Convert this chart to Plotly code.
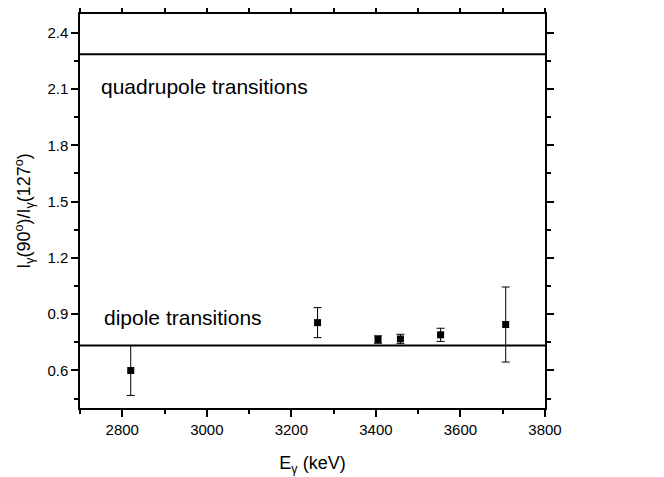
import plotly.graph_objects as go

# gamma energies (keV) and intensity ratios I(90)/I(127)
energy = [2820, 3262, 3405, 3458, 3553, 3707]
ratio = [0.60, 0.855, 0.765, 0.768, 0.790, 0.845]
ratio_err = [0.133, 0.080, 0.020, 0.025, 0.035, 0.200]

# reference levels for pure transitions
x_span = [2700, 3800]
quad_level = 2.286
dipole_level = 0.733

font = "Liberation Sans, Arial, sans-serif"

fig = go.Figure()
fig.add_trace(go.Scatter(x=x_span, y=[quad_level, quad_level], mode="lines",
                         line=dict(color="black", width=2), showlegend=False))
fig.add_trace(go.Scatter(x=x_span, y=[dipole_level, dipole_level], mode="lines",
                         line=dict(color="black", width=2), showlegend=False))
fig.add_trace(go.Scatter(x=energy, y=ratio, mode="markers",
                         marker=dict(symbol="square", size=7, color="black"),
                         error_y=dict(type="data", array=ratio_err, color="black",
                                      thickness=1, width=4),
                         showlegend=False))

fig.add_annotation(x=2745, y=2.112, xref="x", yref="y", text="quadrupole transitions",
                   showarrow=False, xanchor="left", font=dict(size=21, color="black"))
fig.add_annotation(x=2752, y=0.885, xref="x", yref="y", text="dipole transitions",
                   showarrow=False, xanchor="left", font=dict(size=21, color="black"))

axis_common = dict(showline=True, linecolor="black", linewidth=1.5, mirror="allticks",
                   ticks="outside", tickcolor="black", tickwidth=1.5, ticklen=7,
                   showgrid=False, zeroline=False, automargin=False,
                   tickfont=dict(size=15, color="black"),
                   minor=dict(ticks="outside", ticklen=4, tickcolor="black", tickwidth=1.5))

fig.update_xaxes(range=[2700, 3800], tick0=2800, dtick=200,
                 title=dict(text="E<sub>γ</sub> (keV)", font=dict(size=18, color="black"),
                            standoff=20),
                 **axis_common)
fig.update_xaxes(minor_dtick=100, minor_tick0=2700)
fig.update_yaxes(range=[0.4, 2.5], tick0=0.6, dtick=0.3, tickformat=".1f",
                 title=dict(text="I<sub>γ</sub>(90<sup>o</sup>)/I<sub>γ</sub>(127<sup>o</sup>)",
                            font=dict(size=18, color="black"), standoff=12),
                 **axis_common)
fig.update_yaxes(minor_dtick=0.15, minor_tick0=0.45)

fig.update_layout(width=664, height=477, plot_bgcolor="white", paper_bgcolor="white",
                  font=dict(family=font, color="black"),
                  margin=dict(l=72, r=127, t=6, b=77))

fig.write_html("out.html")
